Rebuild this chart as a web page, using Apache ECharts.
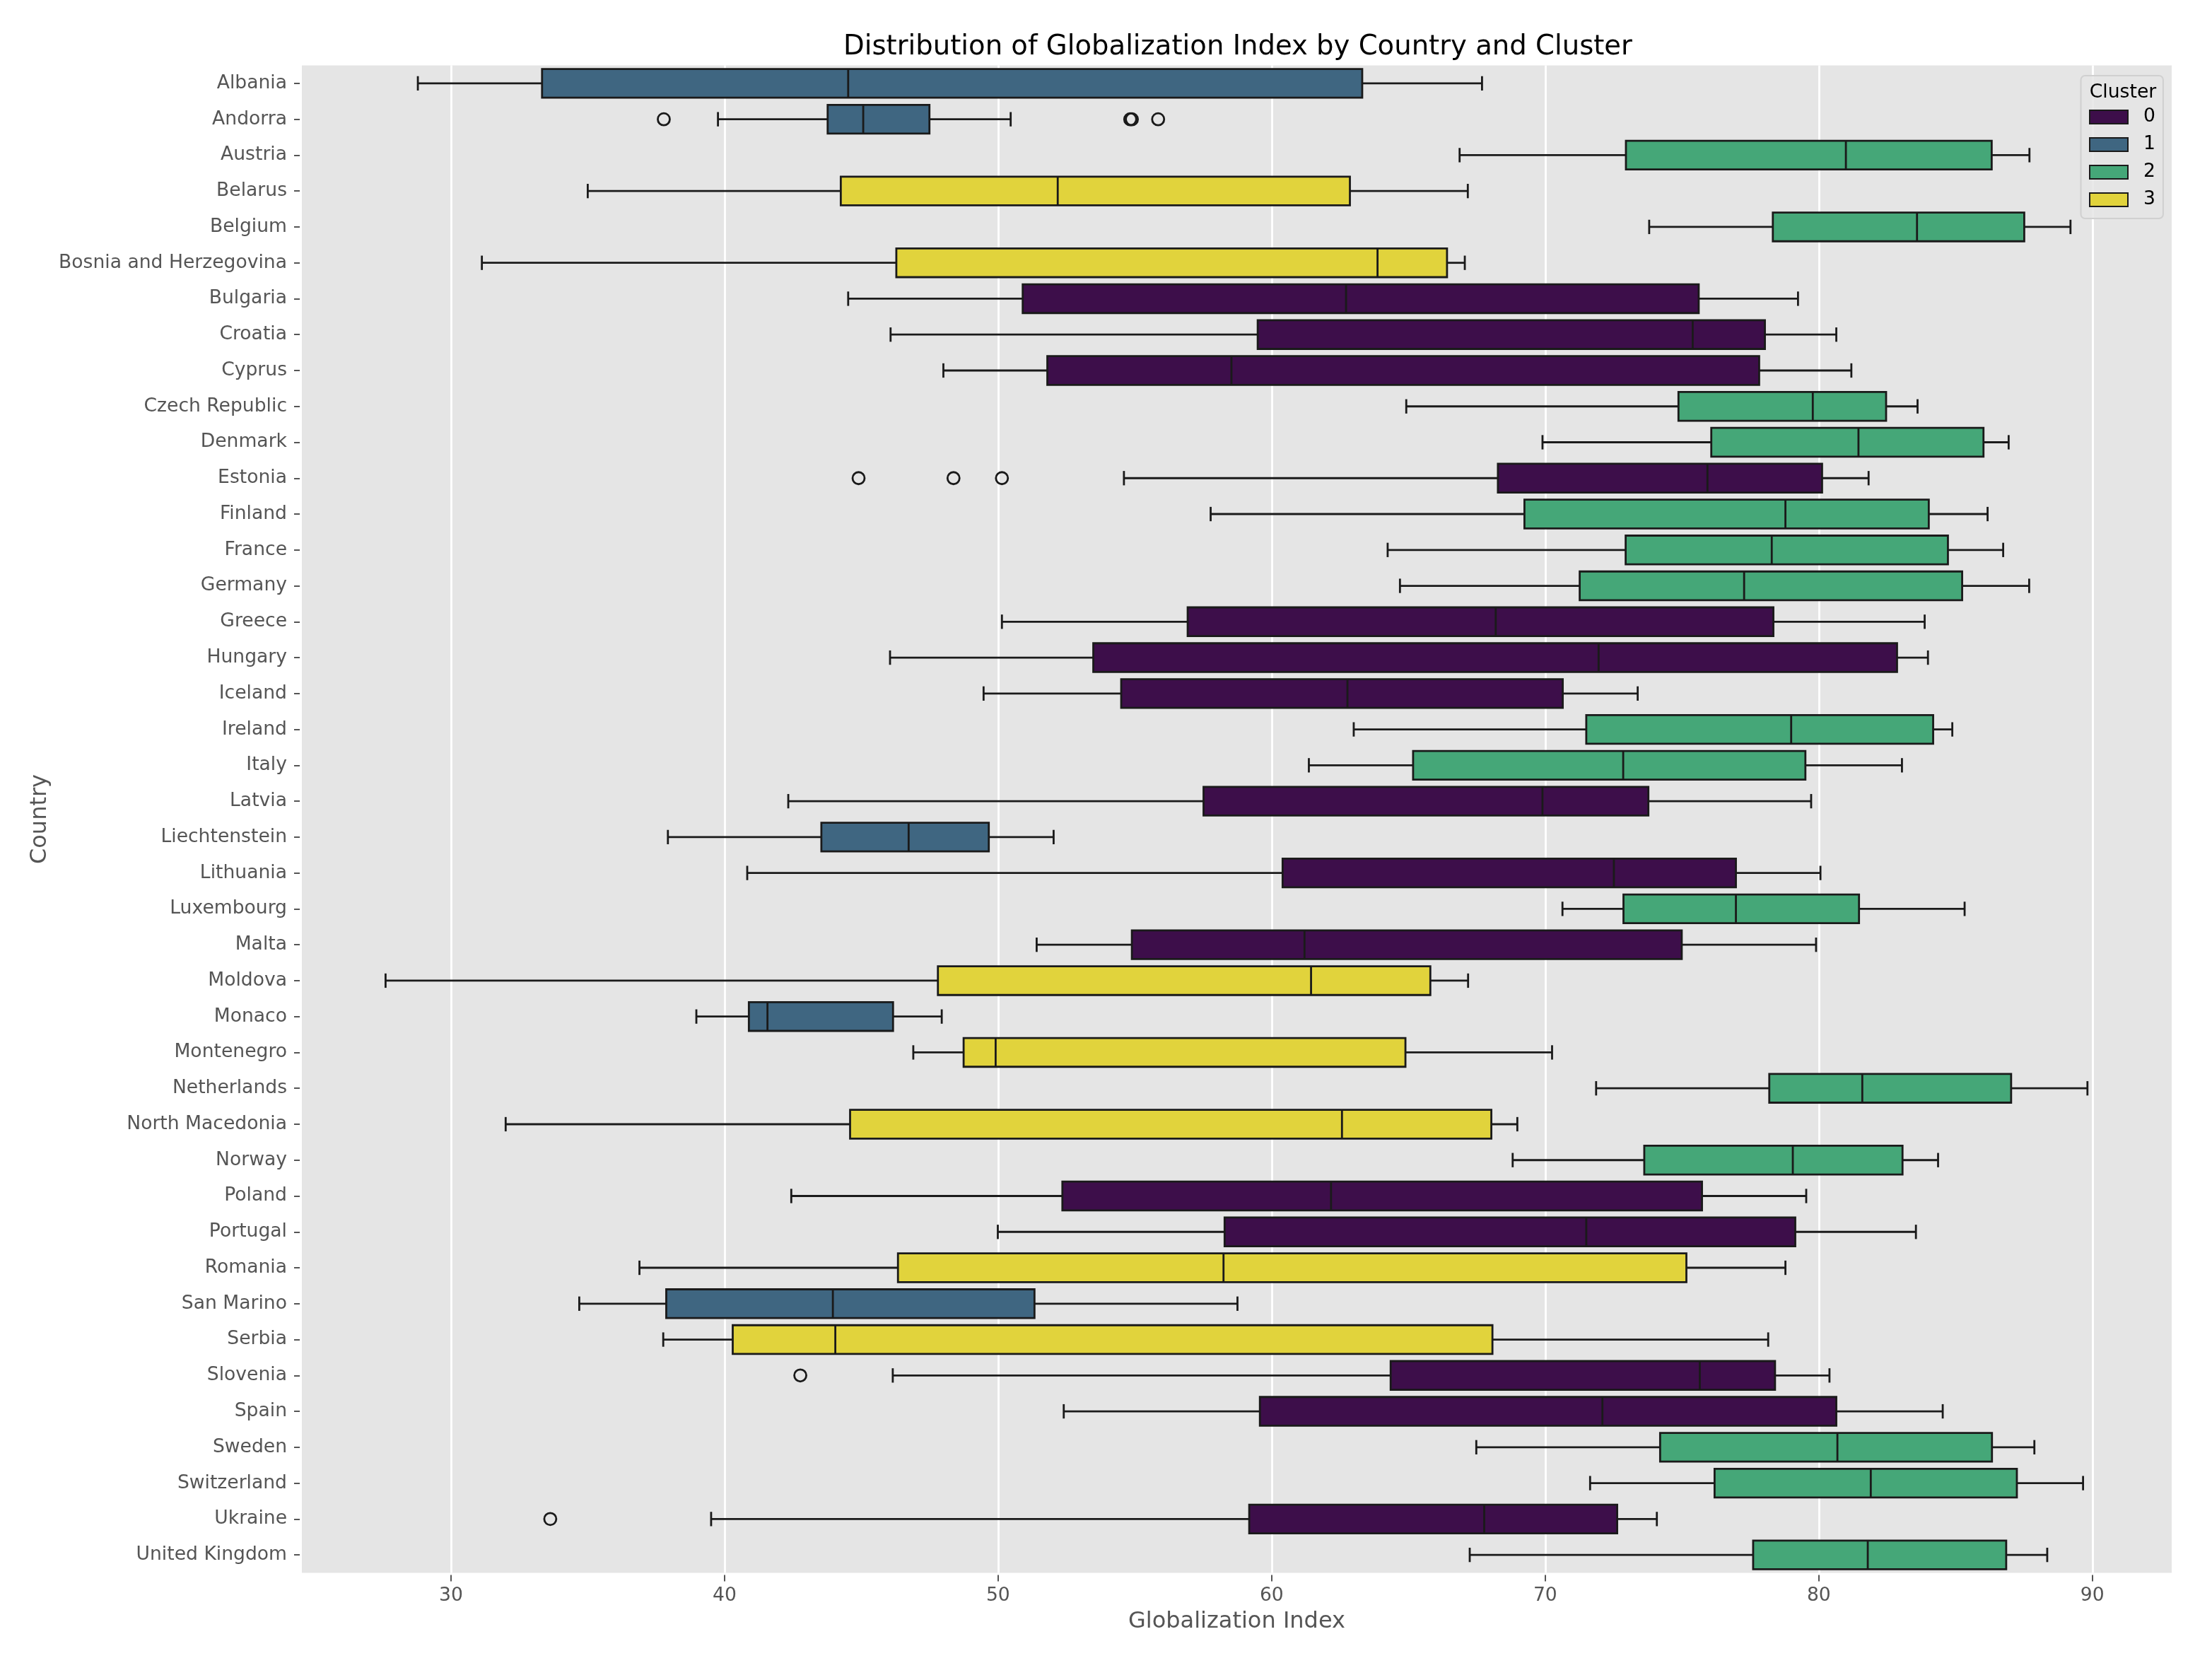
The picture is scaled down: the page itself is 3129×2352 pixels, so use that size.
<!DOCTYPE html>
<html>
<head>
<meta charset="utf-8">
<style>html,body{margin:0;padding:0;background:#fff}#chart{width:3129px;height:2352px}</style>
<script src="https://cdn.jsdelivr.net/npm/echarts@6/dist/echarts.min.js"></script>
</head>
<body>
<div id="chart"></div>
<script>
const countries = ["Albania","Andorra","Austria","Belarus","Belgium","Bosnia and Herzegovina","Bulgaria","Croatia","Cyprus","Czech Republic","Denmark","Estonia","Finland","France","Germany","Greece","Hungary","Iceland","Ireland","Italy","Latvia","Liechtenstein","Lithuania","Luxembourg","Malta","Moldova","Monaco","Montenegro","Netherlands","North Macedonia","Norway","Poland","Portugal","Romania","San Marino","Serbia","Slovenia","Spain","Sweden","Switzerland","Ukraine","United Kingdom"];
const clusters = [1,1,2,3,2,3,0,0,0,2,2,0,2,2,2,0,0,0,2,2,0,1,0,2,0,3,1,3,2,3,2,0,0,3,1,3,0,0,2,2,0,2];
const whiskerLow = [28.79,39.76,66.87,35.0,73.8,31.13,44.52,46.07,48.0,64.92,69.9,54.6,57.77,64.24,64.69,50.14,46.05,49.47,63.0,61.36,42.33,37.93,40.83,70.63,51.41,27.61,38.97,46.9,71.86,32.0,68.81,42.44,49.99,36.89,34.69,37.76,46.15,52.4,67.48,71.64,39.51,67.24];
const quartile1 = [33.33,43.77,72.95,44.25,78.32,46.28,50.9,59.49,51.8,74.87,76.07,68.27,69.24,72.94,71.26,56.93,53.48,54.5,71.5,65.17,57.51,43.54,60.4,72.86,54.89,47.8,40.89,48.74,78.19,44.59,73.62,52.35,58.28,46.34,37.87,40.3,64.35,59.57,74.2,76.19,59.18,77.6];
const medians = [44.52,45.07,80.99,52.18,83.59,63.87,62.72,75.39,58.53,79.78,81.45,75.93,78.78,78.28,77.27,68.19,71.95,62.77,78.99,72.85,69.9,46.73,72.51,76.97,61.2,61.44,41.57,49.91,81.59,62.57,79.05,62.17,71.5,58.24,43.96,44.05,75.65,72.09,80.68,81.9,67.77,81.79];
const quartile3 = [63.31,47.49,86.32,62.86,87.51,66.41,75.61,78.03,77.82,82.46,86.02,80.12,84.02,84.72,85.24,78.34,82.86,70.64,84.18,79.51,73.77,49.66,76.97,81.47,74.99,65.8,46.16,64.89,87.03,68.03,83.06,75.73,79.14,75.16,51.33,68.07,78.4,80.64,86.33,87.24,72.63,86.85];
const whiskerHigh = [67.69,50.46,87.7,67.17,89.2,67.06,79.24,80.64,81.19,83.61,86.94,81.82,86.17,86.74,87.69,83.87,83.99,73.38,84.88,83.04,79.72,52.03,80.06,85.33,79.9,67.18,47.94,70.25,89.82,68.98,84.36,79.54,83.55,78.78,58.75,78.15,80.39,84.53,87.88,89.66,74.08,88.35];
const outlierValues = [37.78,54.83,54.89,55.85,44.9,48.37,50.14,42.77,33.63];
const outlierCountries = ["Andorra","Andorra","Andorra","Andorra","Estonia","Estonia","Estonia","Slovenia","Ukraine"];
const clusterNames = ["0","1","2","3"];
const clusterColors = ["#3D0E4A","#3F6681","#45A778","#E1D33C"];
const xTicks = [30,40,50,60,70,80,90];

const EDGE = "#1a1a1a";
const LW = 2.8;
const FONT = "DejaVu Sans";

function renderBox(params, api) {
  const row = api.value(0);
  const low = api.coord([api.value(1), row]);
  const q1 = api.coord([api.value(2), row]);
  const med = api.coord([api.value(3), row]);
  const q3 = api.coord([api.value(4), row]);
  const high = api.coord([api.value(5), row]);
  const band = api.size([0, 1])[1];
  const yc = low[1];
  const h = band * 0.8;
  const cap = band * 0.2;
  const line = (x1, y1, x2, y2) => ({
    type: "line", shape: {x1, y1, x2, y2},
    style: {stroke: EDGE, lineWidth: LW, fill: null}
  });
  return {
    type: "group",
    children: [
      line(low[0], yc, q1[0], yc),
      line(q3[0], yc, high[0], yc),
      line(low[0], yc - cap, low[0], yc + cap),
      line(high[0], yc - cap, high[0], yc + cap),
      {type: "rect", shape: {x: q1[0], y: yc - h / 2, width: q3[0] - q1[0], height: h},
       style: {fill: clusterColors[clusters[row]], stroke: EDGE, lineWidth: LW}},
      line(med[0], yc - h / 2, med[0], yc + h / 2)
    ]
  };
}

const boxSeries = clusterNames.map((name, c) => ({
  name, type: "custom", renderItem: renderBox,
  itemStyle: {color: clusterColors[c], borderColor: EDGE, borderWidth: 2},
  encode: {x: [1, 2, 3, 4, 5], y: 0},
  z: 3,
  data: countries.map((_, i) => [i, whiskerLow[i], quartile1[i], medians[i], quartile3[i], whiskerHigh[i]])
    .filter(d => clusters[d[0]] === c)
}));

const option = {
  animation: false,
  backgroundColor: "#ffffff",
  textStyle: {fontFamily: FONT},
  title: [
    {text: "Distribution of Globalization Index by Country and Cluster", left: 1746, top: 42, textAlign: "center",
     textStyle: {fontFamily: FONT, fontSize: 38.6, fontWeight: "normal", color: "#000000"}},
    {text: "Cluster", left: 2998, top: 113, textAlign: "center", z: 10,
     textStyle: {fontFamily: FONT, fontSize: 26.6, fontWeight: "normal", color: "#000000"}}
  ],
  grid: {left: 427, top: 92.5, width: 2645, height: 2132, show: true, backgroundColor: "#E5E5E5", borderWidth: 0},
  legend: {
    data: clusterNames, orient: "vertical", left: 2943.5, top: 107,
    padding: [45, 11, 13, 11.5], itemWidth: 54, itemHeight: 19, itemGap: 12,
    backgroundColor: "rgba(229,229,229,0.85)", borderColor: "#d0d0d0", borderWidth: 2, borderRadius: 6,
    icon: "rect", selectedMode: false, z: 5,
    textStyle: {fontFamily: FONT, fontSize: 26.6, color: "#000000", lineHeight: 27, padding: [0, 0, 0, 17]}
  },
  xAxis: {
    type: "value", min: 24.55, max: 92.9, position: "bottom", offset: 3,
    name: "Globalization Index", nameLocation: "center", nameGap: 50,
    nameTextStyle: {fontFamily: FONT, fontSize: 32, color: "#555555"},
    axisLine: {show: false},
    axisTick: {show: true, length: 9, lineStyle: {color: "#555555", width: 2}, customValues: xTicks},
    axisLabel: {fontFamily: FONT, fontSize: 26.6, color: "#555555", margin: 16, customValues: xTicks},
    splitLine: {show: true, lineStyle: {color: "#ffffff", width: LW}}
  },
  yAxis: {
    type: "category", data: countries, inverse: true, offset: 3,
    name: "Country", nameLocation: "center", nameGap: 350, nameRotate: 90,
    nameTextStyle: {fontFamily: FONT, fontSize: 32, color: "#555555"},
    axisLine: {show: false},
    axisTick: {show: true, alignWithLabel: true, length: 8, lineStyle: {color: "#555555", width: 2}},
    axisLabel: {fontFamily: FONT, fontSize: 26.6, color: "#555555", margin: 18, interval: 0, padding: [5, 0, 0, 0]},
    splitLine: {show: false}
  },
  series: boxSeries.concat([{
    name: "outliers", type: "scatter", symbol: "circle", symbolSize: 17, z: 4,
    itemStyle: {color: "rgba(0,0,0,0)", borderColor: EDGE, borderWidth: LW, opacity: 1},
    data: outlierValues.map((v, i) => [v, outlierCountries[i]])
  }])
};

echarts.init(document.getElementById("chart"), null, {renderer: "canvas"}).setOption(option);
</script>
</body>
</html>
